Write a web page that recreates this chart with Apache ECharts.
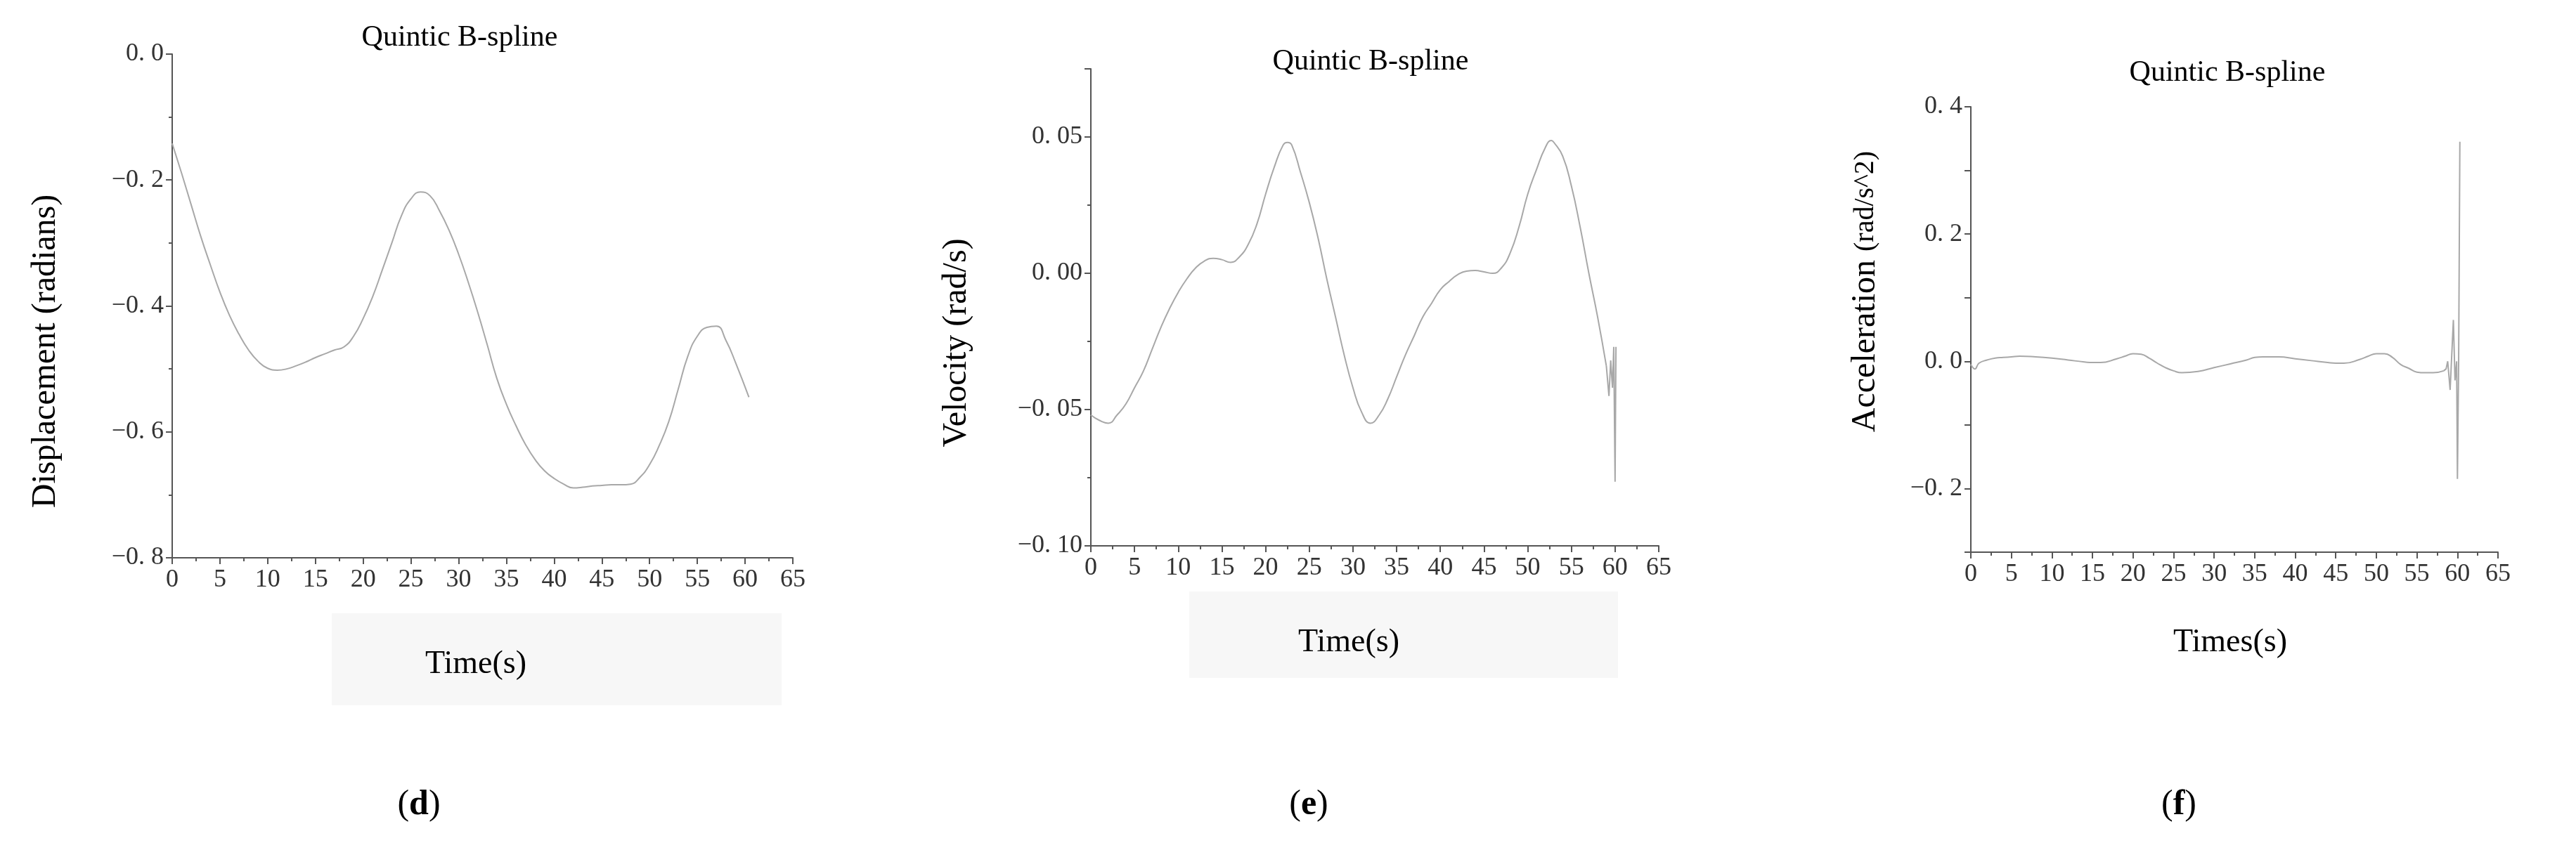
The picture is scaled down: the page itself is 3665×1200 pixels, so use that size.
<!DOCTYPE html>
<html><head><meta charset="utf-8">
<script src="https://cdn.jsdelivr.net/npm/echarts@6/dist/echarts.min.js"></script>
<style>html,body{margin:0;padding:0;background:#fff}#c{width:3665px;height:1200px}</style>
</head><body><div id="c"></div>
<script>
// Panel (d) displacement
const dispT = [0,1,2,3,4,5,6,7,8,9,10,11,12,13,14,15,16,17,18,19,20,21,22,23,24,25,26,27,28,29,30,31,32,33,34,35,36,37,38,39,40,41,42,43,44,45,46,47,48,49,50,51,52,53,54,55,56,57,58,59,60.4];
const dispV = [-0.142,-0.19,-0.24,-0.29,-0.335,-0.378,-0.415,-0.445,-0.47,-0.488,-0.499,-0.502,-0.5,-0.495,-0.489,-0.482,-0.476,-0.47,-0.465,-0.448,-0.42,-0.385,-0.343,-0.3,-0.257,-0.23,-0.219,-0.225,-0.249,-0.28,-0.318,-0.362,-0.41,-0.462,-0.515,-0.556,-0.59,-0.62,-0.644,-0.662,-0.674,-0.683,-0.689,-0.688,-0.686,-0.685,-0.684,-0.684,-0.683,-0.672,-0.652,-0.622,-0.584,-0.532,-0.48,-0.448,-0.434,-0.432,-0.455,-0.49,-0.545];
// Panel (e) velocity
const velT = [0,1,2,3,4,5,6,7,8,9,10,11,12,13,14,15,16,17,18,19,20,21,22,22.5,23,24,25,26,27,28,29,30,31,32,33,34,35,36,37,38,39,40,41,42,43,44,45,46,47,48,49,50,51,52,52.7,53,54,55,56,57,58,59];
const velV = [-0.052,-0.054,-0.055,-0.052,-0.048,-0.042,-0.036,-0.028,-0.02,-0.013,-0.007,-0.002,0.002,0.0045,0.0055,0.005,0.004,0.006,0.0105,0.018,0.029,0.039,0.047,0.048,0.047,0.037,0.026,0.013,-0.002,-0.016,-0.03,-0.042,-0.051,-0.055,-0.052,-0.046,-0.038,-0.03,-0.023,-0.016,-0.011,-0.006,-0.003,-0.0005,0.0008,0.001,0.0005,0,0.002,0.0075,0.017,0.029,0.038,0.046,0.0487,0.048,0.043,0.032,0.017,0,-0.016,-0.034];
const velTailT = [59,59.3,59.5,59.7,59.85,60.0,60.1];
const velTailV = [-0.034,-0.045,-0.032,-0.042,-0.027,-0.0765,-0.027];
// Panel (f) acceleration
const accT = [0,0.5,1,2,3,4,5,6,8,10,12,14,15,16,18,19,20,21,22,23,24,25,26,28,30,32,34,35,36,38,40,42,44,45,46,48,49,50,51,52,53,54,55,56,57,58.3];
const accV = [-0.005,-0.012,-0.003,0.002,0.005,0.006,0.007,0.008,0.007,0.005,0.002,-0.001,-0.002,-0.002,0.004,0.008,0.012,0.011,0.005,-0.003,-0.01,-0.015,-0.018,-0.016,-0.01,-0.004,0.002,0.006,0.007,0.007,0.004,0.001,-0.002,-0.003,-0.003,0.003,0.008,0.012,0.012,0.006,-0.005,-0.011,-0.017,-0.018,-0.018,-0.015];
const accTailT = [58.3,58.6,58.8,59.1,59.5,59.7,59.9,60.0,60.15,60.3];
const accTailV = [-0.015,-0.012,0.0,-0.045,0.065,-0.03,0.0,-0.185,0.0,0.345];
const xTicks = [0,5,10,15,20,25,30,35,40,45,50,55,60,65];

const FONT = '"Liberation Serif", "DejaVu Serif", serif';
const AX = '#555';
const LINE = '#a8a8a8';
function fmt(dec){return v=>{const s=Math.abs(v).toFixed(dec).replace('.', '. ');return (v<-1e-9?'\u2212':'')+s;};}
function pairs(t,v){return t.map((x,i)=>[x,v[i]]);}

const grids=[{left:245,top:77,width:883,height:717},{left:1552,top:98,width:808,height:679},{left:2804,top:152,width:750,height:634}];
function xAxis(i){return {gridIndex:i,type:'value',min:0,max:65,interval:5,
  axisLine:{onZero:false,lineStyle:{color:AX,width:2}},axisTick:{inside:false,length:9,lineStyle:{color:AX,width:2}},
  minorTick:{show:true,splitNumber:2,length:5,lineStyle:{color:AX,width:2}},
  axisLabel:{color:'#333',fontFamily:FONT,fontSize:36,margin:14,formatter:v=>xTicks.includes(v)?String(v):''},
  splitLine:{show:false}};}
const yAxes=[
 {gridIndex:0,type:'value',min:-0.8,max:0,interval:0.2,
  axisLabel:{formatter:fmt(1)},minorTick:{show:true,splitNumber:2,length:5,lineStyle:{color:AX,width:2}}},
 {gridIndex:1,type:'value',min:-0.1,max:0.075,interval:0.05,
  axisLabel:{formatter:fmt(2),showMaxLabel:false},minorTick:{show:true,splitNumber:2,length:5,lineStyle:{color:AX,width:2}}},
 {gridIndex:2,type:'value',min:-0.3,max:0.4,interval:0.1,
  axisLabel:{formatter:v=>{const r=Math.round(v*10);return (r%2===0)?fmt(1)(v):'';}}}
].map(y=>Object.assign({axisLine:{show:true,onZero:false,lineStyle:{color:AX,width:2}},axisTick:{show:true,length:9,lineStyle:{color:AX,width:2}},splitLine:{show:false}},y,
  {axisLabel:Object.assign({color:'#333',fontFamily:FONT,fontSize:36,margin:12},y.axisLabel)}));

function ser(i,t,v,smooth){return {type:'line',xAxisIndex:i,yAxisIndex:i,data:pairs(t,v),smooth:smooth,showSymbol:false,symbol:'none',lineStyle:{color:LINE,width:2},animation:false};}
function txt(x,y,s,size){return {type:'text',x:x,y:y,style:{text:s,fill:'#000',font:size+'px '+FONT,align:'center',verticalAlign:'middle'}};}
function vtxt(x,y,s,size){return {type:'text',x:x,y:y,rotation:Math.PI/2,style:{text:s,fill:'#000',font:size+'px '+FONT,align:'center',verticalAlign:'middle'}};}
function lab(x,l){return {type:'text',x:x,y:1146,style:{rich:{p:{font:'50px '+FONT,fill:'#000'},b:{font:'bold 50px '+FONT,fill:'#000'}},text:'{p|(}{b|'+l+'}{p|)}',align:'center',verticalAlign:'middle'}};}

const chart=echarts.init(document.getElementById('c'));
chart.setOption({
 animation:false,
 grid:grids,
 xAxis:[xAxis(0),xAxis(1),xAxis(2)],
 yAxis:yAxes,
 series:[ser(0,dispT,dispV,true),ser(1,velT,velV,true),ser(1,velTailT,velTailV,false),ser(2,accT,accV,true),ser(2,accTailT,accTailV,false)],
 graphic:[
  {type:'rect',z:-10,shape:{x:472,y:873,width:640,height:131},style:{fill:'#f7f7f7'}},
  {type:'rect',z:-10,shape:{x:1692,y:842,width:610,height:123},style:{fill:'#f7f7f7'}},
  txt(654,54,'Quintic B-spline',42),
  txt(1950,88,'Quintic B-spline',42),
  txt(3169,104,'Quintic B-spline',42),
  vtxt(65,500,'Displacement (radians)',48),
  vtxt(1361,488,'Velocity (rad/s)',48),
  {type:'text',x:2654,y:415,rotation:Math.PI/2,style:{rich:{a:{font:'48px '+FONT,fill:'#000'},b:{font:'40px '+FONT,fill:'#000'}},text:'{a|Acceleration }{b|(rad/s^2)}',align:'center',verticalAlign:'middle'}},
  txt(677,946,'Time(s)',46),
  txt(1919,915,'Time(s)',46),
  txt(3173,915,'Times(s)',46),
  lab(596,'d'),lab(1862,'e'),lab(3100,'f')
 ]
});
</script></body></html>
